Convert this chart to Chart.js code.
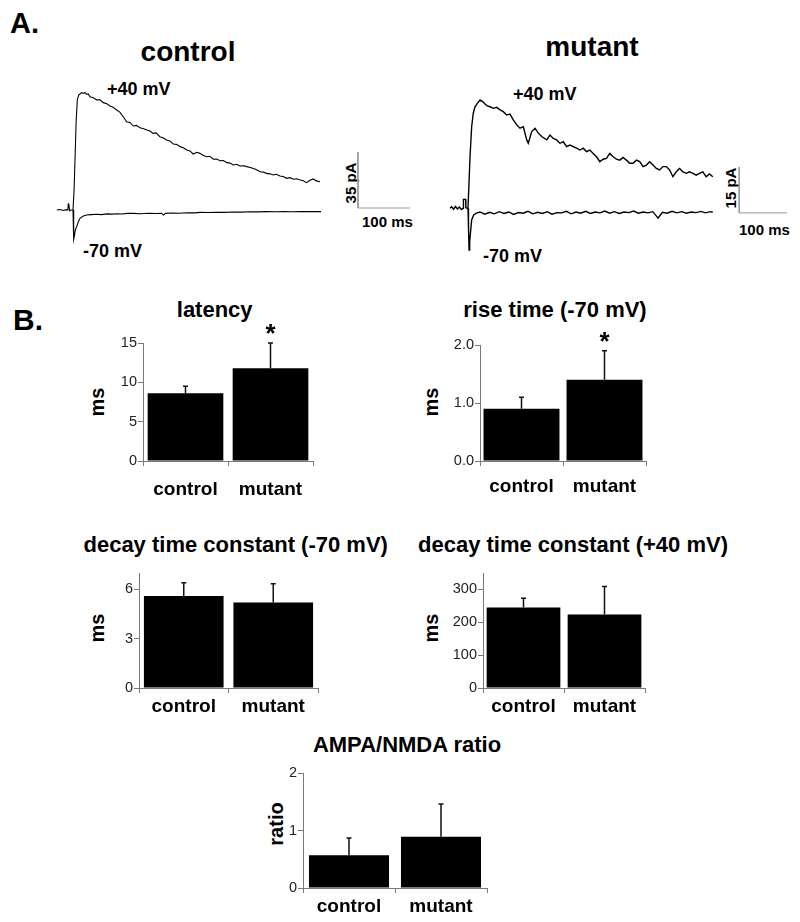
<!DOCTYPE html>
<html>
<head>
<meta charset="utf-8">
<script src="https://cdn.jsdelivr.net/npm/chart.js@4.4.1/dist/chart.umd.min.js"></script>
<style>
  *{box-sizing:border-box;margin:0;padding:0}
  body{width:800px;height:922px;background:#fff;position:relative;overflow:hidden;font-family:'Liberation Sans',Arial,sans-serif}
  .t{position:absolute;font-weight:bold;line-height:1;white-space:nowrap;color:#000}
  .c{transform:translateX(-50%)}
  .r{transform:translate(-50%,-50%) rotate(-90deg)}
  canvas{position:absolute}
</style>
</head>
<body>
<div class="t" style="left:10px;top:8.5px;font-size:29px">A.</div>
<div class="t c" style="left:188px;top:38.3px;font-size:28px">control</div>
<div class="t c" style="left:592px;top:33.3px;font-size:28px">mutant</div>
<div class="t" style="left:107px;top:79.8px;font-size:18px">+40 mV</div>
<div class="t" style="left:83px;top:241.5px;font-size:18px">-70 mV</div>
<div class="t" style="left:513px;top:84.8px;font-size:18px">+40 mV</div>
<div class="t" style="left:483px;top:246.5px;font-size:18px">-70 mV</div>
<div class="t r" style="left:349.8px;top:182.5px;font-size:15px">35 pA</div>
<div class="t" style="left:362px;top:214.3px;font-size:15px">100 ms</div>
<div class="t r" style="left:729.8px;top:187.5px;font-size:15px">15 pA</div>
<div class="t" style="left:739px;top:222.3px;font-size:15px">100 ms</div>

<div class="t" style="left:13px;top:304.6px;font-size:30px">B.</div>
<div class="t c" style="left:214.7px;top:299.4px;font-size:22px">latency</div>
<div class="t c" style="left:555px;top:299.4px;font-size:22px">rise time (-70 mV)</div>
<div class="t c" style="left:235.7px;top:534.4px;font-size:22px">decay time constant (-70 mV)</div>
<div class="t c" style="left:573px;top:534.4px;font-size:22px">decay time constant (+40 mV)</div>
<div class="t c" style="left:407px;top:734.4px;font-size:22px">AMPA/NMDA ratio</div>
<div class="t r" style="left:97px;top:402px;font-size:20px">ms</div>
<div class="t r" style="left:431.4px;top:402px;font-size:20px">ms</div>
<div class="t r" style="left:97px;top:628px;font-size:20px">ms</div>
<div class="t r" style="left:431.4px;top:628px;font-size:20px">ms</div>
<div class="t r" style="left:276.4px;top:824px;font-size:20px">ratio</div>

<canvas id="ctrlTrace"></canvas>
<canvas id="mutTrace"></canvas>
<canvas id="latency"></canvas>
<canvas id="rise"></canvas>
<canvas id="decay70"></canvas>
<canvas id="decay40"></canvas>
<canvas id="ampa"></canvas>

<script>
// ---- panel A: example traces (time in ms from stimulus, current in pA from baseline)
const ctrlBaseT = [-31, -25, -19, -13, -10, -9, -8, -6.5, -3, 0];
const ctrlBaseI = [0, 0.3, -0.3, 0.2, 0, 3.8, 3.5, -0.5, 0, 0];
const ctrl40T = [0, 2, 4.4, 6, 8.3, 11, 13.5, 16, 19.8, 23, 26.3, 29, 32.7, 39, 45.6, 52, 58.3, 65, 71.2, 77, 84, 90, 96.7, 103, 110, 116, 122, 129, 136, 142, 148, 154, 160, 167, 173, 180, 186, 193, 199, 206, 212, 219, 225, 231, 238, 244, 250, 257, 263, 270, 276, 283, 289, 296, 302, 308, 315, 321, 328, 334, 341, 347, 353, 360, 366, 372, 379, 385, 391, 398, 404, 411, 417, 424, 430, 437, 443, 449, 456, 462, 468, 475];
const ctrl40I = [0, 12, 37.5, 55, 68.8, 71.9, 72.5, 73.4, 72.9, 73.5, 72.3, 72.6, 70.8, 70.1, 68.8, 68.9, 67.1, 66.4, 65, 64.2, 62.5, 61.2, 58.3, 55.2, 54.6, 52.5, 52.9, 51.4, 50.8, 50, 49.4, 47.9, 48.2, 45.8, 45.1, 43.8, 43.2, 41.3, 41.0, 39.6, 38.9, 37.5, 36.9, 35, 36.1, 35.4, 34.2, 33.3, 33.6, 31.7, 31.9, 30.8, 30.9, 29.6, 29.3, 28.1, 28.6, 27.5, 27.6, 27.1, 26.6, 26, 25.2, 23.9, 23.7, 22.9, 22.6, 21.9, 22.3, 21.3, 20.9, 19.8, 20.2, 19.2, 19.5, 18.8, 18.3, 17.1, 18.6, 19.4, 18.2, 17.7];
const ctrl70T = [0, 0.6, 1.9, 3, 4.4, 7.1, 10.3, 13.5, 19.8, 26.3, 35, 45.6, 55, 65, 75, 84, 95, 105, 116, 130, 145, 160, 170, 174, 178, 190, 205, 220, 235, 244, 260, 275, 290, 308, 325, 340, 356, 372, 390, 405, 420, 440, 460, 477];
const ctrl70I = [0, -14.6, -18.3, -15.5, -12.5, -10.4, -7.3, -5.2, -3.8, -3.1, -2.9, -2.7, -2.9, -2.4, -2.6, -2.3, -2.5, -2.1, -2.1, -2.3, -2.0, -2.2, -2.0, -3.1, -2.1, -1.9, -2.0, -1.7, -1.8, -1.5, -1.6, -1.4, -1.5, -1.25, -1.3, -1.1, -1.2, -1.0, -1.1, -0.9, -1.1, -1.0, -0.9, -1.0];
const ctrlBarT = [548, 548, 648];      // 35 pA / 100 ms
const ctrlBarI = [36.25, 1.25, 1.25];

const mutBaseT = [-37.5, -34, -30, -26, -22, -18, -14, -10, -9.5, -5, -4.5, -2, 0];
const mutBaseI = [0, 0.5, -0.3, 0.6, -0.2, 0.4, -0.4, 0, 2.9, 2.9, 0.2, 0, 0];
const mut40T = [0, 4.2, 7.6, 11, 14.6, 19.4, 25, 30.6, 35.4, 40.2, 45.8, 52.8, 59.8, 66.7, 73.5, 80.6, 87.5, 94.4, 101.5, 108.3, 115.3, 122.3, 125.6, 132.7, 139.6, 146.5, 153.5, 164, 170.8, 177.7, 184.6, 191.5, 198.5, 205.4, 212.3, 219.2, 226.2, 233.1, 240, 246.9, 253.8, 260.8, 267.7, 274.6, 281.5, 288.5, 295.4, 302.3, 309.2, 316.2, 323.1, 330, 336.9, 343.8, 350.8, 357.7, 364.6, 371.5, 378.5, 385.4, 392.3, 399.2, 406.2, 413.1, 420, 426.9, 433.8, 440.8, 447.7, 454.6, 461.5, 468.5, 475.4, 482.3, 489.2, 496.2, 503.1, 510];
const mut40I = [0, 16.8, 26.6, 31, 33.1, 34.2, 35.3, 34.8, 34, 33.4, 33.1, 32.6, 32.9, 32.1, 31.5, 30.4, 30.7, 28.8, 27.2, 26.1, 26.6, 22.3, 21.2, 25, 26.1, 24.5, 23.4, 22.3, 23.9, 22.8, 22.3, 21.2, 21.7, 20.1, 20.6, 20.1, 19.6, 19, 19.6, 18.5, 19, 17.9, 16.8, 15.2, 16, 16.3, 17.9, 16.8, 16, 15.7, 16.6, 15.7, 14.7, 14.7, 15.7, 15.2, 13.6, 14.1, 15.2, 14.1, 13, 12.5, 13.6, 13.6, 12.5, 10.3, 11.9, 13, 11.9, 11.4, 11.9, 11.4, 10.8, 11.4, 11.9, 10.3, 11.2, 10.3];
const mut70T = [0, 1, 2.2, 3.5, 5, 7.6, 11.8, 17.4, 25, 35, 45, 55, 65, 75, 85, 95, 105, 115, 125, 135, 145, 155, 165, 175, 185, 195, 205, 215, 225, 235, 245, 255, 265, 275, 285, 295, 305, 315, 325, 335, 345, 355, 365, 375, 385, 396, 405, 415, 425, 435, 445, 455, 465, 475, 485, 495, 505, 510];
const mut70I = [0, -6, -13.6, -11, -8.2, -3.8, -2.2, -1.6, -1.2, -1.9, -1.3, -1.8, -1.1, -1.7, -1.2, -2, -1.4, -1.6, -1, -1.8, -1.3, -1.7, -1.1, -1.9, -1.4, -1.5, -1, -1.8, -1.2, -1.6, -1, -1.7, -1.2, -1.5, -0.9, -1.6, -1.1, -1.7, -1.2, -1.4, -0.9, -1.6, -1.2, -1.5, -1.1, -3.2, -1.3, -1.6, -1.0, -1.5, -1.1, -1.6, -1.2, -1.4, -1.0, -1.5, -1.1, -1.3];
const mutBarT = [565, 565, 665];       // 15 pA / 100 ms
const mutBarI = [13.5, -1.5, -1.5];

// ---- panel B: group means and SEM
const CATS = ["control", "mutant"];
const latencyMean = [8.6, 11.8],  latencySem = [0.9, 3.2],  latencyStar = [false, true],  latencyTicks = [0, 5, 10, 15];
const riseMean = [0.9, 1.4],      riseSem = [0.2, 0.5],     riseStar = [false, true],     riseTicks = [0, 1, 2];
const decay70Mean = [5.6, 5.2],   decay70Sem = [0.8, 1.15], decay70Star = [false, false], decay70Ticks = [0, 3, 6];
const decay40Mean = [245, 224],   decay40Sem = [28, 85],    decay40Star = [false, false], decay40Ticks = [0, 100, 200, 300];
const ampaMean = [0.57, 0.89],    ampaSem = [0.30, 0.57],   ampaStar = [false, false],    ampaTicks = [0, 1, 2];

Chart.defaults.font.family = "'Liberation Sans', Arial, sans-serif";
const AXIS = "#7a7a7a";

function pts(ts, is) { return ts.map((t, k) => ({ x: t, y: is[k] })); }

function tracePanel(id, box, range, lines, bar, width) {
  const cv = document.getElementById(id);
  cv.width = box.w; cv.height = box.h;
  cv.style.left = box.x + "px"; cv.style.top = box.y + "px";
  const sets = lines.map(l => ({ data: pts(l[0], l[1]), borderColor: "#000", borderWidth: width, pointRadius: 0, tension: 0 }));
  sets.push({ data: pts(bar[0], bar[1]), borderColor: "#9a9a9a", borderWidth: 1, pointRadius: 0, borderJoinStyle: "miter", borderCapStyle: "butt" });
  new Chart(cv, {
    type: "line",
    data: { datasets: sets },
    options: {
      responsive: false, animation: false,
      layout: { padding: 0 },
      plugins: { legend: { display: false }, tooltip: { enabled: false } },
      scales: {
        x: { type: "linear", display: false, min: range.t0, max: range.t1 },
        y: { display: false, min: range.i0, max: range.i1 }
      }
    }
  });
}

tracePanel("ctrlTrace", { x: 52, y: 80, w: 370, h: 182 }, { t0: -40.4, t1: 671.2, i0: -32.5, i1: 81.25 },
  [[ctrlBaseT, ctrlBaseI], [ctrl40T, ctrl40I], [ctrl70T, ctrl70I]], [ctrlBarT, ctrlBarI], 1.1);
tracePanel("mutTrace", { x: 449, y: 80, w: 346, h: 182 }, { t0: -39.6, t1: 681.25, i0: -17.51, i1: 41.83 },
  [[mutBaseT, mutBaseI], [mut40T, mut40I], [mut70T, mut70I]], [mutBarT, mutBarI], 1.4);

const errPlugin = {
  id: "err",
  afterDatasetsDraw(chart, args, opts) {
    const ctx = chart.ctx, ds = chart.data.datasets[0], y = chart.scales.y;
    ctx.save();
    ctx.strokeStyle = "#111"; ctx.lineWidth = 1.5;
    chart.getDatasetMeta(0).data.forEach((bar, i) => {
      const top = y.getPixelForValue(ds.data[i] + opts.sem[i]);
      ctx.beginPath();
      ctx.moveTo(bar.x, bar.y); ctx.lineTo(bar.x, top);
      ctx.moveTo(bar.x - 2.5, top); ctx.lineTo(bar.x + 2.5, top);
      ctx.stroke();
      if (opts.star[i]) {
        ctx.fillStyle = "#000";
        ctx.font = "bold 26px 'Liberation Sans', Arial";
        ctx.textAlign = "center";
        ctx.fillText("*", bar.x, top - 1);
      }
    });
    ctx.restore();
  }
};

function barPanel(id, p, means, sems, stars, ticks, yMax, digits) {
  const cv = document.getElementById(id);
  cv.width = p.right - p.axisX + 48;
  cv.height = p.bottom - p.top + 73;
  cv.style.left = (p.axisX - 40) + "px"; cv.style.top = (p.top - 28) + "px";
  new Chart(cv, {
    type: "bar",
    data: { labels: CATS, datasets: [{ data: means, backgroundColor: "#000", barPercentage: p.bar, categoryPercentage: 1 }] },
    options: {
      responsive: false, animation: false,
      layout: { padding: { left: 0, top: 28, right: 8, bottom: 0 } },
      plugins: { legend: { display: false }, tooltip: { enabled: false }, err: { sem: sems, star: stars } },
      scales: {
        x: {
          grid: { offset: true, drawOnChartArea: false, tickLength: 5, color: AXIS },
          border: { color: AXIS },
          ticks: { color: "#000", font: { size: 19, weight: "bold" }, padding: p.labelPad, maxRotation: 0 },
          afterFit: s => { s.height = 45; }
        },
        y: {
          min: 0, max: yMax,
          grid: { drawOnChartArea: false, tickLength: 5, color: AXIS },
          border: { color: AXIS },
          ticks: { color: "#222", font: { size: 14.5 }, padding: 1, callback: v => Number(v).toFixed(digits) },
          afterBuildTicks: s => { s.ticks = ticks.map(v => ({ value: v })); },
          afterFit: s => { s.width = 40; }
        }
      }
    },
    plugins: [errPlugin]
  });
}

barPanel("latency", { axisX: 143, top: 343, bottom: 461, right: 313, bar: 0.89, labelPad: 12.7 }, latencyMean, latencySem, latencyStar, latencyTicks, 15, 0);
barPanel("rise",    { axisX: 480, top: 345, bottom: 461, right: 646, bar: 0.915, labelPad: 9 }, riseMean, riseSem, riseStar, riseTicks, 2, 1);
barPanel("decay70", { axisX: 139, top: 573, bottom: 688, right: 318, bar: 0.89, labelPad: 2 }, decay70Mean, decay70Sem, decay70Star, decay70Ticks, 7, 0);
barPanel("decay40", { axisX: 483, top: 573, bottom: 688, right: 645, bar: 0.91, labelPad: 2 }, decay40Mean, decay40Sem, decay40Star, decay40Ticks, 350, 0);
barPanel("ampa",    { axisX: 303, top: 773, bottom: 888, right: 487, bar: 0.87, labelPad: 2 }, ampaMean, ampaSem, ampaStar, ampaTicks, 2, 0);
</script>
</body>
</html>
